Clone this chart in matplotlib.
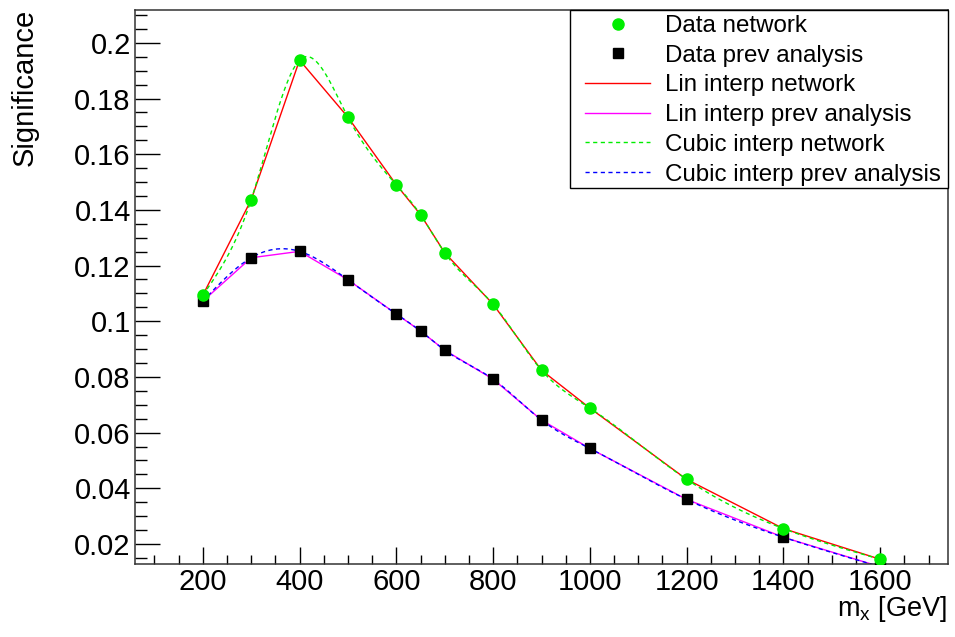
# Significance vs mass: network vs previous analysis, with linear and cubic interpolation
import matplotlib
matplotlib.use("Agg")
import matplotlib.pyplot as plt
import numpy as np
from matplotlib.ticker import MultipleLocator
from matplotlib.patches import Rectangle

plt.rcParams["font.family"] = ["Liberation Sans", "DejaVu Sans"]

# data
mass = np.array([200, 300, 400, 500, 600, 650, 700, 800, 900, 1000, 1200, 1400, 1600])
sig_network = np.array([0.1093, 0.1436, 0.1938, 0.1733, 0.1490, 0.1383, 0.1246,
                        0.1061, 0.0824, 0.0688, 0.0432, 0.0255, 0.0145])
sig_prev = np.array([0.1072, 0.1228, 0.1251, 0.1149, 0.1026, 0.0965, 0.0896,
                     0.0792, 0.0645, 0.0543, 0.0360, 0.0224, 0.0118])


def natural_spline(x, y, xs):
    # plain natural cubic spline, no scipy needed
    n = len(x)
    h = np.diff(x).astype(float)
    A = np.zeros((n, n))
    b = np.zeros(n)
    A[0, 0] = 1
    A[-1, -1] = 1
    for i in range(1, n - 1):
        A[i, i - 1] = h[i - 1]
        A[i, i] = 2 * (h[i - 1] + h[i])
        A[i, i + 1] = h[i]
        b[i] = 3 * ((y[i + 1] - y[i]) / h[i] - (y[i] - y[i - 1]) / h[i - 1])
    c = np.linalg.solve(A, b)
    idx = np.clip(np.searchsorted(x, xs) - 1, 0, n - 2)
    t = xs - x[idx]
    bb = (y[idx + 1] - y[idx]) / h[idx] - h[idx] * (2 * c[idx] + c[idx + 1]) / 3
    d = (c[idx + 1] - c[idx]) / (3 * h[idx])
    return y[idx] + bb * t + c[idx] * t**2 + d * t**3


xs = np.linspace(200, 1600, 600)

W, H = 955, 637
fig = plt.figure(figsize=(W / 100, H / 100), dpi=100)
ax = fig.add_axes([135 / W, 1 - 564 / H, 813 / W, 554 / H])

ax.plot(mass, sig_network, color="#ff0000", lw=1.0, label="Lin interp network")
ax.plot(mass, sig_prev, color="#ff00ff", lw=1.0, label="Lin interp prev analysis")
ax.plot(xs, natural_spline(mass, sig_network, xs), color="#00ee00", lw=1.0,
        ls=(0, (3, 2.5)), label="Cubic interp network")
ax.plot(xs, natural_spline(mass, sig_prev, xs), color="#0000ff", lw=1.0,
        ls=(0, (3, 2.5)), label="Cubic interp prev analysis")
ax.plot(mass, sig_network, "o", color="#00ee00", ms=8, mec="#00ee00", ls="none",
        label="Data network", zorder=5)
ax.plot(mass, sig_prev, "s", color="black", ms=7.5, ls="none",
        label="Data prev analysis", zorder=4)

ax.set_xlim(60, 1740)
ax.set_ylim(0.0128, 0.2118)

ax.xaxis.set_major_locator(MultipleLocator(200))
ax.xaxis.set_minor_locator(MultipleLocator(50))
ax.yaxis.set_major_locator(MultipleLocator(0.02))
ax.yaxis.set_minor_locator(MultipleLocator(0.005))
ax.xaxis.set_major_formatter(plt.FuncFormatter(lambda v, p: f"{v:g}"))
ax.yaxis.set_major_formatter(plt.FuncFormatter(lambda v, p: f"{v:g}"))

ax.tick_params(axis="both", which="both", direction="in", labelsize=21, color="black")
ax.tick_params(axis="y", which="major", length=18, width=1, pad=3)
ax.tick_params(axis="y", which="minor", length=8.5, width=1)
ax.tick_params(axis="x", which="major", length=12.5, width=1, pad=3)
ax.tick_params(axis="x", which="minor", length=6.5, width=1)
for s in ax.spines.values():
    s.set_linewidth(1.1)
    s.set_color("#333333")

# axis titles placed ROOT-style: x title bottom right, y title top left
fig.text(947 / W, 1 - 616 / H, "m$_{\\mathregular{x}}$ [GeV]", fontsize=19.5,
         ha="right", va="baseline")
fig.text(25 / W, 1 - 9 / H, "Significance", fontsize=21, rotation=90,
         ha="center", va="top")

# legend box drawn by hand so its padding can match the original
box = Rectangle(((570 - 135) / 813, 1 - 178 / 554), (948 - 570) / 813, 178 / 554,
                transform=ax.transAxes, facecolor="white", edgecolor="black",
                lw=1.0, zorder=10, clip_on=False)
ax.add_patch(box)

handles, labels = ax.get_legend_handles_labels()
order = [4, 5, 0, 1, 2, 3]
leg = ax.legend([handles[i] for i in order], [labels[i] for i in order],
                loc="upper left", bbox_to_anchor=(585 / W, 1 - 15 / H),
                bbox_transform=fig.transFigure, borderaxespad=0, borderpad=0,
                fontsize=17.4, frameon=False, handlelength=2.7, handletextpad=0.62,
                labelspacing=0.32, numpoints=1)
leg.set_zorder(11)

fig.savefig("out.png", dpi=100)
